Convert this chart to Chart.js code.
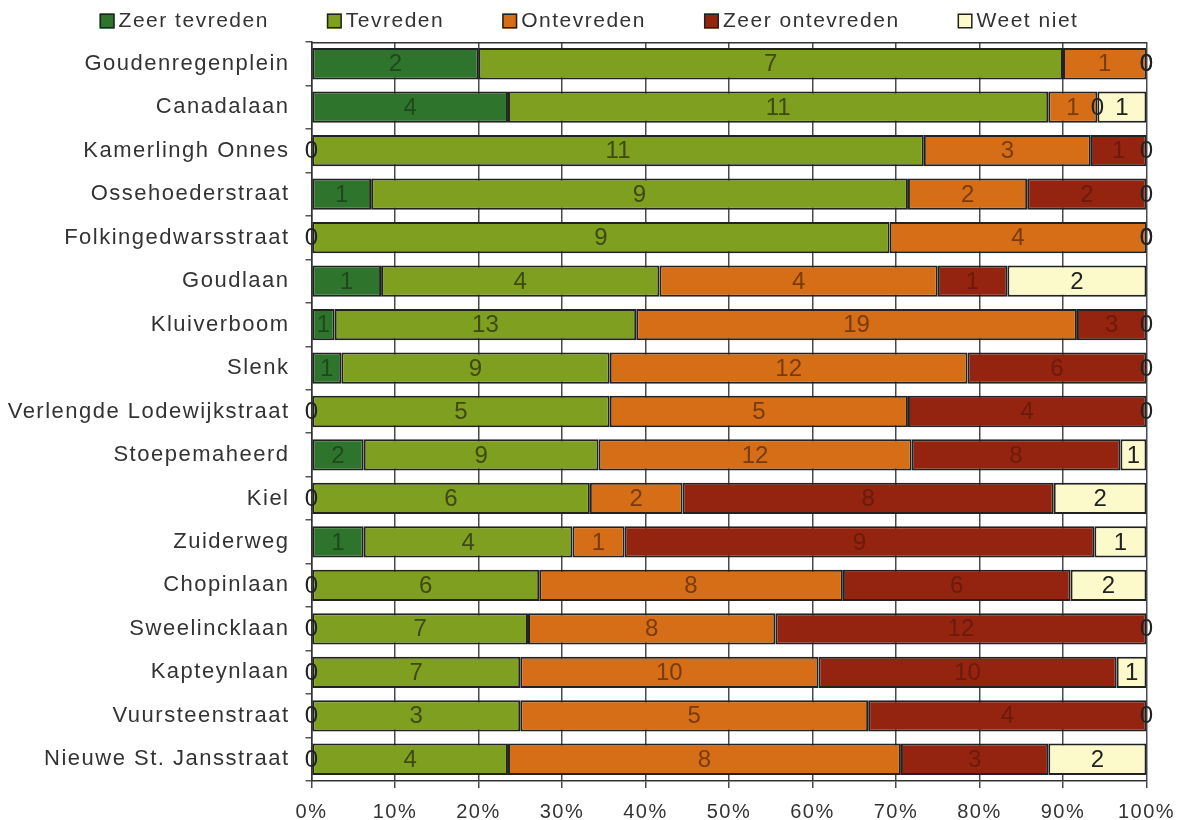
<!DOCTYPE html>
<html lang="nl">
<head>
<meta charset="utf-8">
<title>Tevredenheid per straat</title>
<script src="https://cdn.jsdelivr.net/npm/chart.js@4.4.1/dist/chart.umd.min.js"></script>
<style>
  html, body { margin: 0; padding: 0; background: #ffffff; }
  #wrap { width: 1185px; height: 820px; }
</style>
</head>
<body>
<div id="wrap"><canvas id="chart" width="1185" height="820"></canvas></div>
<script>
// Streets, top to bottom
const categories = [
  'Goudenregenplein', 'Canadalaan', 'Kamerlingh Onnes', 'Ossehoederstraat',
  'Folkingedwarsstraat', 'Goudlaan', 'Kluiverboom', 'Slenk',
  'Verlengde Lodewijkstraat', 'Stoepemaheerd', 'Kiel', 'Zuiderweg',
  'Chopinlaan', 'Sweelincklaan', 'Kapteynlaan', 'Vuursteenstraat',
  'Nieuwe St. Jansstraat'
];

// Number of answers per street
const zeerTevreden   = [2, 4, 0, 1, 0, 1, 1, 1, 0, 2, 0, 1, 0, 0, 0, 0, 0];
const tevreden       = [7, 11, 11, 9, 9, 4, 13, 9, 5, 9, 6, 4, 6, 7, 7, 3, 4];
const ontevreden     = [1, 1, 3, 2, 4, 4, 19, 12, 5, 12, 2, 1, 8, 8, 10, 5, 8];
const zeerOntevreden = [0, 0, 1, 2, 0, 1, 3, 6, 4, 8, 8, 9, 6, 12, 10, 4, 3];
const weetNiet       = [0, 1, 0, 0, 0, 2, 0, 0, 0, 1, 2, 1, 2, 0, 1, 0, 2];

const seriesNames = ['Zeer tevreden', 'Tevreden', 'Ontevreden', 'Zeer ontevreden', 'Weet niet'];
const seriesCounts = [zeerTevreden, tevreden, ontevreden, zeerOntevreden, weetNiet];

// Percentage axis ticks
const xTickValues = [0, 10, 20, 30, 40, 50, 60, 70, 80, 90, 100];

const fillColors  = ['#2f742c', '#7f9f20', '#d56e16', '#94240f', '#fcfacb'];
const labelColors = ['#1d4a1b', '#3d4a10', '#7a3b0c', '#6c1a0b', '#222222'];
const zeroColor = '#222222';
const textColor = '#333333';
const FONT = '"Liberation Sans", Arial, Helvetica, sans-serif';
const TRACKING = '1.5px';

// Row totals, used to turn counts into shares of 100%
const totals = categories.map((_, i) => seriesCounts.reduce((s, arr) => s + arr[i], 0));

const datasets = seriesNames.map((name, k) => ({
  label: name,
  data: seriesCounts[k].map((v, i) => v / totals[i] * 100),
  counts: seriesCounts[k],
  backgroundColor: fillColors[k],
  borderColor: '#222222',
  borderWidth: 2,
  borderSkipped: false,
  categoryPercentage: 1,
  barPercentage: 0.72
}));

// Wider tracking on the axis and legend text
const tracking = {
  id: 'tracking',
  beforeUpdate(chart) { chart.ctx.letterSpacing = TRACKING; },
  beforeDraw(chart) { chart.ctx.letterSpacing = TRACKING; }
};

// Line along the top of the plot area
const topRule = {
  id: 'topRule',
  beforeDatasetsDraw(chart) {
    const { ctx, chartArea: a } = chart;
    ctx.save();
    ctx.strokeStyle = '#333333';
    ctx.lineWidth = 1.5;
    ctx.beginPath();
    ctx.moveTo(a.left, a.top + 0.75);
    ctx.lineTo(a.right, a.top + 0.75);
    ctx.stroke();
    ctx.restore();
  }
};

// Counts written in the middle of each segment
const valueLabels = {
  id: 'valueLabels',
  afterDatasetsDraw(chart) {
    const { ctx } = chart;
    ctx.save();
    ctx.letterSpacing = '0px';
    ctx.font = '24px ' + FONT;
    ctx.textAlign = 'center';
    ctx.textBaseline = 'middle';
    chart.data.datasets.forEach((ds, k) => {
      const meta = chart.getDatasetMeta(k);
      meta.data.forEach((el, i) => {
        const n = ds.counts[i];
        const cx = (el.x + el.base) / 2;
        ctx.fillStyle = n === 0 ? zeroColor : labelColors[k];
        ctx.fillText(String(n), cx, el.y + 1);
      });
    });
    ctx.restore();
  }
};

// Legend row above the plot
const legendRow = {
  id: 'legendRow',
  afterDraw(chart) {
    const { ctx } = chart;
    const box = 15, gapBoxText = 4, gapItems = 58, cy = 21;
    ctx.save();
    ctx.letterSpacing = TRACKING;
    ctx.font = '21px ' + FONT;
    ctx.textBaseline = 'middle';
    ctx.textAlign = 'left';
    const widths = chart.data.datasets.map(ds => ctx.measureText(ds.label).width);
    const total = widths.reduce((s, w) => s + box + gapBoxText + w, 0) + gapItems * (widths.length - 1);
    let x = 589 - total / 2;
    chart.data.datasets.forEach((ds, k) => {
      ctx.fillStyle = ds.backgroundColor;
      ctx.fillRect(x, cy - box / 2, box, box);
      ctx.strokeStyle = '#222222';
      ctx.lineWidth = 1.5;
      ctx.strokeRect(x + 0.75, cy - box / 2 + 0.75, box - 1.5, box - 1.5);
      ctx.fillStyle = textColor;
      ctx.fillText(ds.label, x + box + gapBoxText, cy);
      x += box + gapBoxText + widths[k] + gapItems;
    });
    ctx.restore();
  }
};

new Chart(document.getElementById('chart'), {
  type: 'bar',
  data: { labels: categories, datasets },
  plugins: [tracking, topRule, valueLabels, legendRow],
  options: {
    indexAxis: 'y',
    responsive: false,
    animation: false,
    devicePixelRatio: 1,
    layout: { padding: { top: 42, right: 38.5, bottom: 0, left: 0 } },
    plugins: {
      legend: { display: false },
      tooltip: { enabled: false }
    },
    scales: {
      x: {
        stacked: true,
        min: 0,
        max: 100,
        afterBuildTicks(scale) { scale.ticks = xTickValues.map(v => ({ value: v })); },
        afterFit(scale) {
          scale.height = 39;
          scale.paddingLeft = 0;
          scale.paddingRight = 0;
        },
        grid: { color: '#4a4a4a', lineWidth: 1.5, tickLength: 7, drawTicks: true },
        border: { display: true, color: '#333333', width: 1.5 },
        ticks: {
          callback: v => v + '%',
          color: textColor,
          font: { family: FONT, size: 20 },
          padding: 12,
          maxRotation: 0
        }
      },
      y: {
        stacked: true,
        afterFit(scale) { scale.width = 311.5; },
        grid: { display: true, drawOnChartArea: false, offset: true, tickLength: 6, color: '#555555', lineWidth: 1.5 },
        border: { display: true, color: '#333333', width: 1.5 },
        ticks: {
          color: textColor,
          font: { family: FONT, size: 22 },
          padding: 16
        }
      }
    }
  }
});
</script>
</body>
</html>
